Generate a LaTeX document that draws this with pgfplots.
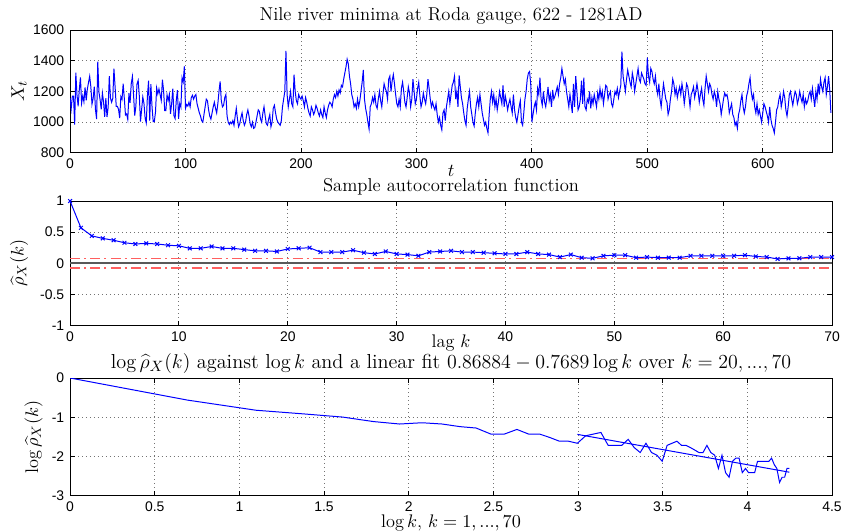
\documentclass[border=0pt]{standalone}
\usepackage{fontspec}
\usepackage{pgfplots}
\usepackage{pgfplotstable}
\pgfplotsset{compat=1.18}
\newfontfamily\ticksf{Liberation Sans}
\definecolor{mblue}{RGB}{0,0,255}
\definecolor{mred}{RGB}{255,95,95}

\pgfplotstableread[header=false,row sep=\\]{
1157\\1088\\1169\\1169\\984\\1322\\1178\\1103\\1211\\1292\\1124\\1171\\1133\\1227\\1142\\1216\\1259\\1299\\1232\\1117\\
1155\\1232\\1083\\1020\\1394\\1196\\1148\\1083\\1189\\1133\\1034\\1157\\1034\\1097\\1299\\1157\\1130\\1155\\1349\\1232\\
1103\\1103\\1083\\1027\\1166\\1148\\1250\\1155\\1047\\1054\\1018\\1189\\1126\\1250\\1297\\1178\\1043\\1103\\1250\\1272\\
1169\\1004\\1083\\1164\\1124\\1027\\995\\1169\\1270\\1011\\1247\\1101\\1004\\1004\\1065\\1223\\1184\\1216\\1180\\1142\\
1277\\1206\\1076\\1076\\1178\\1142\\1180\\1054\\1121\\1218\\1043\\1024\\1140\\1209\\1022\\1121\\1097\\1290\\1263\\1364\\
1090\\1115\\1105\\1130\\1100\\1160\\1175\\1150\\1170\\1180\\1120\\1090\\1060\\1040\\1010\\1000\\1050\\1100\\1150\\1140\\
1080\\1040\\1020\\1060\\1100\\1130\\1090\\1060\\1120\\1200\\1265\\1140\\1100\\1110\\1160\\1180\\1040\\1000\\985\\1000\\
990\\1010\\980\\1040\\1090\\1020\\970\\990\\1030\\1060\\1010\\980\\1000\\1050\\1080\\1040\\990\\970\\1000\\960\\
965\\1000\\1040\\1080\\1070\\1020\\1000\\1060\\1100\\1040\\990\\980\\1020\\1050\\970\\1000\\1090\\1110\\1060\\1020\\
1000\\990\\980\\1010\\1100\\1150\\1200\\1465\\1180\\1100\\1150\\1200\\1120\\1100\\1310\\1200\\1140\\1120\\1180\\1160\\
1150\\1170\\1140\\1100\\1160\\1130\\1090\\1060\\1040\\1100\\1080\\1050\\1070\\1110\\1090\\1060\\1040\\1080\\1050\\1030\\
1100\\1060\\1030\\1080\\1110\\1130\\1120\\1100\\1150\\1180\\1160\\1200\\1170\\1210\\1190\\1240\\1230\\1280\\1320\\1360\\
1410\\1380\\1300\\1250\\1180\\1150\\1100\\1120\\1090\\1150\\1100\\1140\\1200\\1260\\1340\\1150\\1090\\1050\\1000\\955\\
1100\\1120\\1160\\1130\\1180\\1110\\1090\\1150\\1200\\1140\\1100\\1180\\1250\\1220\\1200\\1150\\1280\\1300\\1200\\1270\\
1310\\1250\\1180\\1120\\1100\\1150\\1100\\1220\\1260\\1200\\1130\\1100\\1160\\1230\\1190\\1100\\1150\\1280\\1200\\1120\\
1150\\1220\\1260\\1170\\1100\\1130\\1190\\1150\\1120\\1180\\1280\\1220\\1150\\1100\\1130\\1100\\1080\\1120\\1050\\1000\\
1030\\980\\950\\1060\\1080\\1010\\1100\\1150\\1200\\1120\\1180\\1240\\1260\\1300\\1150\\1200\\1100\\1305\\1230\\1160\\
1120\\1060\\1010\\980\\1090\\1150\\1200\\1100\\1050\\1000\\975\\1060\\1120\\1160\\1100\\1180\\1120\\1060\\1020\\980\\
1000\\960\\930\\1050\\1150\\1200\\1130\\1180\\1100\\1150\\1080\\1130\\1200\\1160\\1120\\1240\\1100\\1170\\1130\\1080\\
1120\\1150\\1100\\1060\\1180\\1080\\1030\\1000\\1050\\1100\\1140\\1000\\980\\1060\\1150\\1200\\1280\\1320\\1330\\1250\\
1000\\1050\\1100\\1130\\1080\\1220\\1180\\1290\\1150\\1110\\1200\\1130\\1100\\1160\\1230\\1140\\1180\\1100\\1210\\1150\\
1170\\1200\\1230\\1180\\1250\\1290\\1350\\1300\\1250\\1280\\1200\\1150\\1100\\1180\\1120\\1060\\1250\\1100\\1300\\1200\\
1080\\1100\\1150\\1270\\1120\\1290\\1100\\1080\\1150\\1130\\1200\\1090\\1160\\1120\\1180\\1140\\1100\\1190\\1150\\1220\\
1160\\1200\\1120\\1180\\1240\\1230\\1150\\1180\\1200\\1120\\1100\\1150\\1200\\1180\\1220\\1160\\1200\\1240\\1460\\1300\\
1250\\1200\\1280\\1340\\1300\\1260\\1230\\1320\\1280\\1200\\1250\\1300\\1350\\1280\\1260\\1320\\1300\\1280\\1250\\1240\\
1420\\1300\\1260\\1350\\1330\\1280\\1250\\1300\\1220\\1180\\1250\\1150\\1100\\1180\\1250\\1200\\1150\\1130\\1050\\1080\\
1150\\1200\\1280\\1250\\1180\\1220\\1160\\1200\\1230\\1180\\1250\\1200\\1120\\1180\\1250\\1230\\1170\\1100\\1180\\1200\\
1230\\1160\\1200\\1250\\1200\\1130\\1180\\1220\\1150\\1110\\1220\\1300\\1250\\1200\\1250\\1230\\1180\\1150\\1200\\1170\\
1100\\1200\\1150\\1120\\1050\\1100\\1150\\1190\\1170\\1180\\1140\\1060\\1090\\1120\\1050\\1030\\980\\1000\\960\\1050\\
1080\\1140\\1180\\1100\\1060\\1100\\1170\\1200\\1250\\1290\\1200\\1150\\1180\\1100\\1060\\1120\\1050\\1080\\1040\\1000\\
1060\\1120\\1100\\1070\\1040\\1000\\1100\\1020\\980\\960\\930\\1000\\1080\\1100\\1150\\1180\\1100\\1140\\1200\\1160\\
1080\\1040\\1100\\1180\\1200\\1150\\1110\\1160\\1200\\1180\\1120\\1150\\1200\\1160\\1130\\1180\\1100\\1150\\1120\\1140\\
1180\\1200\\1150\\1220\\1160\\1100\\1200\\1150\\1250\\1180\\1280\\1230\\1200\\1260\\1290\\1180\\1230\\1300\\1210\\1060\\
}\niletable

\pgfplotstableread{
k rho
0 1.00
1 0.57
2 0.44
3 0.40
4 0.37
5 0.33
6 0.31
7 0.32
8 0.31
9 0.29
10 0.28
11 0.24
12 0.24
13 0.27
14 0.24
15 0.24
16 0.22
17 0.20
18 0.20
19 0.19
20 0.23
21 0.24
22 0.25
23 0.18
24 0.18
25 0.18
26 0.21
27 0.17
28 0.15
29 0.19
30 0.15
31 0.14
32 0.12
33 0.18
34 0.19
35 0.20
36 0.18
37 0.18
38 0.17
39 0.16
40 0.15
41 0.15
42 0.18
43 0.15
44 0.14
45 0.10
46 0.14
47 0.09
48 0.08
49 0.12
50 0.13
51 0.13
52 0.09
53 0.10
54 0.09
55 0.09
56 0.09
57 0.12
58 0.12
59 0.12
60 0.12
61 0.12
62 0.13
63 0.11
64 0.10
65 0.07
66 0.08
67 0.08
68 0.10
69 0.10
70 0.10
}\acftable

\pgfplotstableread{
lk lr
0.000 0.000
0.693 -0.562
1.099 -0.821
1.386 -0.916
1.609 -0.994
1.792 -1.109
1.946 -1.171
2.079 -1.139
2.197 -1.171
2.303 -1.238
2.398 -1.273
2.485 -1.427
2.565 -1.427
2.639 -1.309
2.708 -1.427
2.773 -1.427
2.833 -1.514
2.890 -1.609
2.944 -1.609
2.996 -1.661
3.045 -1.470
3.091 -1.427
3.135 -1.386
3.178 -1.715
3.219 -1.715
3.258 -1.715
3.296 -1.561
3.332 -1.772
3.367 -1.897
3.401 -1.661
3.434 -1.897
3.466 -1.966
3.497 -2.120
3.526 -1.715
3.555 -1.661
3.584 -1.609
3.611 -1.715
3.638 -1.715
3.664 -1.772
3.689 -1.833
3.714 -1.897
3.738 -1.897
3.761 -1.715
3.784 -1.897
3.807 -1.966
3.829 -2.303
3.850 -1.966
3.871 -2.408
3.892 -2.526
3.912 -2.120
3.932 -2.040
3.951 -2.040
3.970 -2.408
3.989 -2.303
4.007 -2.408
4.025 -2.408
4.043 -2.408
4.060 -2.120
4.078 -2.120
4.094 -2.120
4.111 -2.120
4.127 -2.120
4.143 -2.040
4.159 -2.207
4.174 -2.303
4.190 -2.659
4.205 -2.526
4.220 -2.526
4.234 -2.303
4.248 -2.303
}\logtable

\pgfplotsset{
 mstyle/.style={
  scale only axis, width=459pt,
  axis line style={line width=0.5pt},
  tick align=inside, major tick length=3pt,
  every tick/.style={black, line width=0.5pt},
  grid=major,
  major grid style={dotted, black!55, line width=0.5pt},
  tick label style={font=\ticksf\fontsize{8.4}{10}\selectfont},
  /pgf/number format/assume math mode=true,
  /pgf/number format/1000 sep={},
  label style={font=\fontsize{11}{13}\selectfont},
  title style={font=\fontsize{11.2}{13}\selectfont, at={(axis description cs:0.5,1)}, anchor=base},
  xlabel style={at={(axis description cs:0.5,0)}, anchor=base},
 }
}

\begin{document}
\begin{tikzpicture}
\path[use as bounding box] (-42.2pt,18.1pt) rectangle (466.2pt,-301.8pt);

\begin{axis}[mstyle, at={(0,0)}, anchor=north west, height=74pt,
  xmin=0, xmax=660, ymin=800, ymax=1600,
  xtick={0,100,200,300,400,500,600}, ytick={800,1000,1200,1400,1600},
  title={Nile river minima at Roda gauge, 622 - 1281AD},
  title style={yshift=0pt},
  xlabel={$t$}, xlabel style={yshift=-14pt},
  ylabel={$X_t$}, ylabel style={at={(axis description cs:-0.067,0.5)}, anchor=center}]
\addplot[mblue, line width=0.6pt] table[x expr=\coordindex, y index=0]{\niletable};
\end{axis}

\begin{axis}[mstyle, at={(0,-103pt)}, anchor=north west, height=75pt,
  xmin=0, xmax=70, ymin=-1, ymax=1,
  xtick={0,10,20,30,40,50,60,70}, ytick={-1,-0.5,0,0.5,1},
  title={Sample autocorrelation function},
  title style={yshift=-0.5pt},
  xlabel={lag $k$}, xlabel style={yshift=-13.5pt},
  ylabel={$\widehat{\rho}_X(k)$}, ylabel style={at={(axis description cs:-0.067,0.5)}, anchor=center}]
\addplot[black!65, line width=1.3pt] coordinates {(0,0) (70,0)};
\addplot[mred, line width=0.9pt, dash pattern=on 6pt off 2.5pt on 1.2pt off 2.5pt] coordinates {(0,0.078) (70,0.078)};
\addplot[mred, line width=0.9pt, dash pattern=on 6pt off 2.5pt on 1.2pt off 2.5pt] coordinates {(0,-0.078) (70,-0.078)};
\addplot[mblue, line width=0.6pt, mark=x, mark size=1.6pt] table[x=k, y=rho]{\acftable};
\end{axis}

\begin{axis}[mstyle, at={(0,-209.6pt)}, anchor=north west, height=71pt,
  xmin=0, xmax=4.5, ymin=-3, ymax=0,
  xtick={0,0.5,1,1.5,2,2.5,3,3.5,4,4.5}, ytick={-3,-2,-1,0},
  title={$\log\widehat{\rho}_X(k)$ against $\log k$ and a linear fit $0.86884-0.7689\log k$ over $k=20,...,70$},
  title style={yshift=0pt, font=\fontsize{12.2}{14}\selectfont},
  xlabel={$\log k$, $k=1,...,70$}, xlabel style={yshift=-19.3pt},
  ylabel={$\log\widehat{\rho}_X(k)$}, ylabel style={at={(axis description cs:-0.048,0.5)}, anchor=center}]
\addplot[mblue, line width=0.6pt] table[x=lk, y=lr]{\logtable};
\addplot[mblue, line width=0.6pt] coordinates {(2.996,-1.4348) (4.248,-2.3975)};
\end{axis}
\end{tikzpicture}
\end{document}
